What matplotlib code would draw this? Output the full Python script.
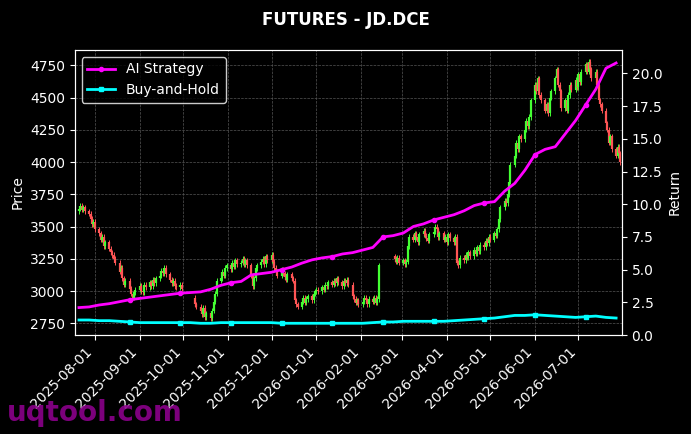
import numpy as np, pandas as pd, matplotlib
matplotlib.use("Agg")
import matplotlib.pyplot as plt, matplotlib.dates as mdates

# price segments: (start date, first open, daily closes on business days)
seg_starts = ["2025-07-21", "2025-10-09", "2026-02-24"]
seg_opens = [3620, 2950, 3270]
closes_a = [3640,3660,3630,3650,3620, 3600,3560,3520,3540,3480, 3450,3400,3420,3350,3380,
            3330,3300,3280,3250,3220, 3150,3180,3100,3050,3080, 3020,2980,2950,2990,3010,
            3040,3000,2990,3050,3030, 3070,3040,3090,3060,3100, 3120,3160,3140,3180,3130,
            3090,3060,3080,3040,3030, 3050,3020]
closes_b = [2900,2880, 2850,2820,2870,2800,2830, 2790,2850,2920,2980,3080, 3100,3150,3120,3180,3200,
            3170,3220,3190,3240,3210, 3220,3250,3210,3240,3200, 3120,3040,3100,3180,3200,
            3230,3250,3210,3270,3240, 3280,3230,3180,3150,3120, 3170,3140,3110,3090,3130,
            3100,3080,2930,2900,2880, 2920,2950,2910,2940,2960, 2930,2980,3000,3010,3000,
            3030,3010,3050,3040,3070, 3050,3080,3060,3100,3070, 3040,3080,3060,3090,3050,
            2960,2940,2910,2930,2900, 2920,2950,2930,2900,2940, 2920,2950,2910,2940,3200]
closes_c = [3250,3230,3260,3220, 3240,3210,3230,3350,3420, 3400,3450,3420,3380,3440,
            3470,3430,3410,3390,3440, 3460,3500,3480,3420,3450, 3400,3420,3380,3440,3410,
            3380,3420,3220,3200,3260, 3240,3280,3260,3300,3270, 3320,3290,3340,3310,3360,
            3340,3390,3370,3420,3400, 3450,3430,3480,3560,3650, 3700,3680,3750,3850,3980,
            4050,4150,4100,4200,4180, 4250,4320,4280,4350,4480, 4600,4550,4650,4520,4480,
            4400,4450,4380,4500,4550, 4650,4720,4600,4550,4420, 4480,4400,4520,4600,4560,
            4640,4580,4680,4620,4700, 4760,4700,4780,4720,4650, 4700,4600,4480,4450,4400,
            4300,4250,4150,4200,4100, 4050,4120,4070,4000]
seg_closes = [closes_a, closes_b, closes_c]

ret_start = "2025-07-21"  # weekly points
ai_ret = [2.1,2.15,2.3,2.4,2.55,2.7,2.8,2.9,3.0,3.1,3.2,3.25,3.3,3.5,3.8,4.0,4.1,4.6,4.7,4.8,
          5.0,5.2,5.5,5.75,5.9,6.0,6.2,6.3,6.5,6.7,7.5,7.6,7.8,8.3,8.5,8.8,9.0,9.2,9.5,9.9,
          10.1,10.2,11.0,11.6,12.6,13.8,14.2,14.4,15.4,16.4,17.6,18.8,20.4,20.8]
bh_ret = [1.15,1.15,1.1,1.1,1.05,1.0,0.95,0.95,0.95,0.95,0.95,0.95,0.9,0.9,0.95,0.95,0.95,0.95,0.95,0.95,
          0.9,0.9,0.9,0.9,0.9,0.9,0.9,0.9,0.9,0.95,1.0,1.0,1.05,1.05,1.05,1.05,1.05,1.1,1.15,1.2,
          1.25,1.3,1.4,1.5,1.5,1.55,1.5,1.45,1.4,1.35,1.4,1.45,1.35,1.3]

plt.rcParams['font.family'] = ['DejaVu Sans']
fig, ax = plt.subplots(figsize=(6.91,4.34), dpi=100)
fig.patch.set_facecolor("black"); ax.set_facecolor("black")
fig.subplots_adjust(left=0.108, right=0.9, top=0.885, bottom=0.228)

for start, o, closes in zip(seg_starts, seg_opens, seg_closes):
    days = pd.bdate_range(start, periods=len(closes))
    prev = o
    for d, c in zip(days, closes):
        x = mdates.date2num(d)
        col = "#44ff33" if c >= prev else "#ff5555"
        hi, lo = max(prev, c) + 20, min(prev, c) - 20
        ax.vlines(x, lo, hi, color=col, lw=0.7)
        ax.vlines(x, min(prev,c), max(prev,c), color=col, lw=1.6)
        prev = c

ax.set_ylim(2660, 4870)
ax.set_xlim(mdates.datestr2num("2025-07-18"), mdates.datestr2num("2026-07-31"))
ax.set_ylabel("Price", color="white")
ax.grid(True, color="#555555", ls="--", lw=0.5)
ax.xaxis.set_major_locator(mdates.MonthLocator())
ax.xaxis.set_major_formatter(mdates.DateFormatter("%Y-%m-%d"))
plt.setp(ax.get_xticklabels(), rotation=45, ha="right")
ax.tick_params(colors="white")
for s in ax.spines.values(): s.set_color("white")

ax2 = ax.twinx()
rd = pd.date_range(ret_start, periods=len(ai_ret), freq="7D")
ax2.plot(rd, ai_ret, color="#ff00ff", lw=2, marker="o", ms=3, markevery=(5,5), label="AI Strategy")
ax2.plot(rd, bh_ret, color="#00ffff", lw=2, marker="s", ms=3, markevery=(5,5), label="Buy-and-Hold")
ax2.set_ylim(0, 21.8)
ax2.set_ylabel("Return", color="white")
ax2.tick_params(colors="white")
for s in ax2.spines.values(): s.set_color("white")
ax2.legend(loc="upper left", facecolor="black", edgecolor="white", labelcolor="white")

fig.suptitle("FUTURES - JD.DCE", color="white", fontweight="bold", y=0.975)
fig.text(0.01, 0.03, "uqtool.com", color="#8b008b", fontsize=20, fontweight="bold", alpha=0.9)
fig.savefig("out.png", facecolor="black")
